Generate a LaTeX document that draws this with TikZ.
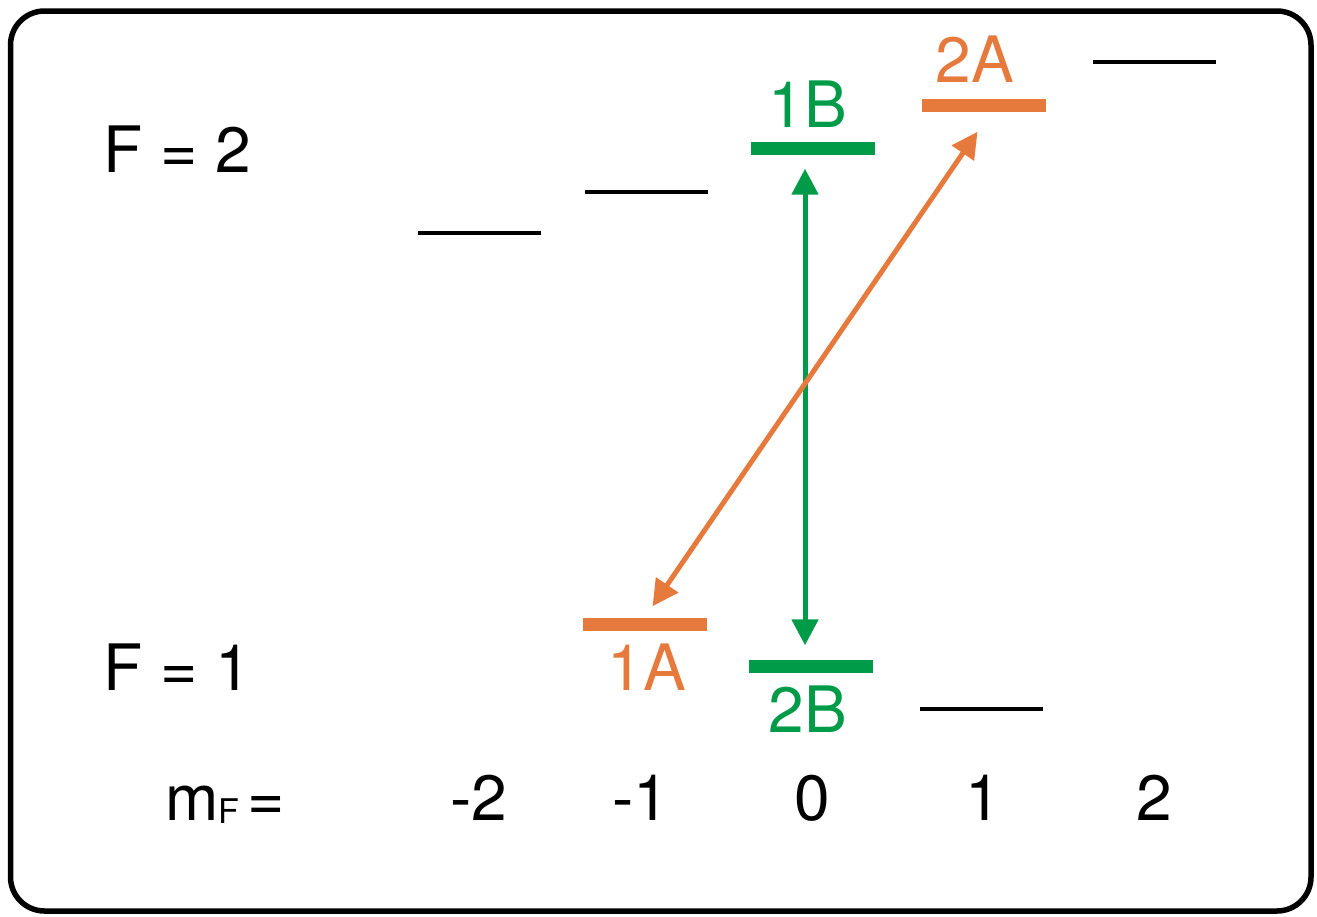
\documentclass[tikz,border=0pt]{standalone}
\usepackage{fontspec}
\setmainfont{TeX Gyre Heros}
\usetikzlibrary{arrows.meta}
\definecolor{myorange}{RGB}{230,122,60}
\definecolor{mygreen}{RGB}{0,155,72}
\tikzset{
  x=1pt, y=-1pt,
  lvl/.style={fill=black, inner sep=0pt, minimum width=123pt, minimum height=4pt},
  hotlvl/.style={inner sep=0pt, minimum width=124pt, minimum height=13pt},
  lbl/.style={anchor=base, inner sep=0pt, font=\fontsize{64}{70}\selectfont},
  conn/.style={line width=5pt, {Triangle[length=26pt,width=26pt]}-{Triangle[length=26pt,width=26pt]}},
  frame/.style={line width=5.5pt, rounded corners=34pt}
}
\begin{document}
\begin{tikzpicture}
\useasboundingbox (0,0) rectangle (1317,916);
\draw[frame] (10.5,11) rectangle (1311,911);
% F=2 levels
\node[lvl] (f2m2) at (479.5,233) {};
\node[lvl] (f2m1) at (646.5,192) {};
\node[hotlvl, fill=mygreen] (l1B) at (813,148) {};
\node[hotlvl, fill=myorange] (l2A) at (983.5,105) {};
\node[lvl] (f2p2) at (1154,62) {};
% F=1 levels
\node[hotlvl, fill=myorange] (l1A) at (644.5,624) {};
\node[hotlvl, fill=mygreen] (l2B) at (811,666) {};
\node[lvl] (f1p1) at (981.5,709) {};
% level labels
\node[lbl, text=mygreen] (t1B) at (808,127) {1B};
\node[lbl, text=myorange] (t2A) at (975,82) {2A};
\node[lbl, text=myorange] (t1A) at (647,690) {1A};
\node[lbl, text=mygreen] (t2B) at (808,732) {2B};
% F labels
\node[lbl, anchor=base west] (F2) at (103,172) {F = 2};
\node[lbl, anchor=base west] (F1) at (103,690) {F = 1};
\node[lbl, anchor=base west] (mF) at (165,820) {m\raisebox{-3pt}{\fontsize{34}{34}\selectfont F}\hspace{8pt}=};
\node[lbl] (n1) at (479,820) {-2};
\node[lbl] (n2) at (641,820) {-1};
\node[lbl] (n3) at (812,820) {0};
\node[lbl] (n4) at (983,820) {1};
\node[lbl] (n5) at (1154,820) {2};
% transitions
\coordinate (g1) at ([xshift=-8pt,yshift=-14pt]l1B.south);
\coordinate (g2) at ([xshift=-6pt,yshift=14pt]l2B.north);
\draw[conn, draw=mygreen, fill=mygreen] (g1) -- (g2);
\coordinate (o1) at ([xshift=-6pt,yshift=-20pt]l2A.south);
\coordinate (o2) at ([xshift=8pt,yshift=11pt]l1A.north);
\draw[conn, draw=myorange, fill=myorange] (o1) -- (o2);
\end{tikzpicture}
\end{document}
